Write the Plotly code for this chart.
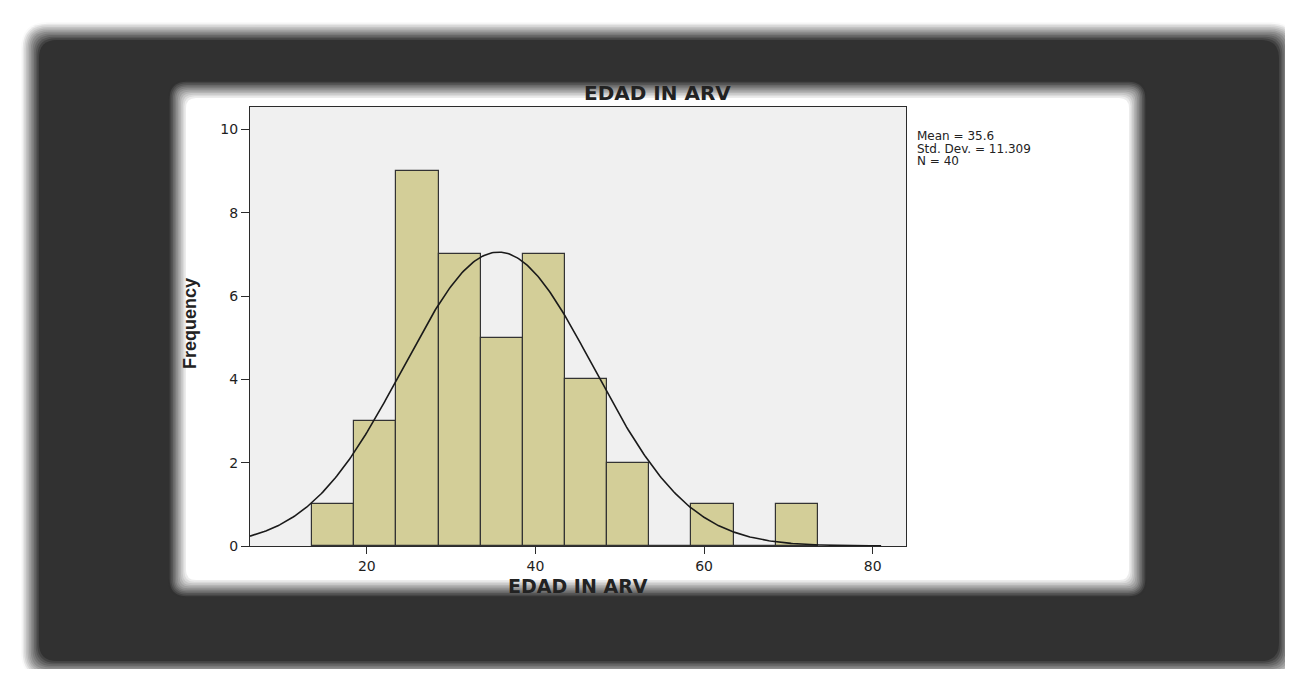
import numpy as np
import plotly.graph_objects as go

# ---- data ----
bin_centers = [16, 21, 26, 31, 36, 41, 46, 51, 56, 61, 66, 71]
counts = [1, 3, 9, 7, 5, 7, 4, 2, 0, 1, 0, 1]
bin_width = 5
mean_val = 35.6
std_val = 11.309
n_val = 40
x_ticks = [20, 40, 60, 80]
y_ticks = [0, 2, 4, 6, 8, 10]
title_text = "EDAD IN ARV"
x_title = "EDAD IN ARV"
y_title = "Frequency"
stats_lines = ["Mean = 35.6", "Std. Dev. = 11.309", "N = 40"]

# ---- geometry (page pixels; the page body adds an 8px offset) ----
OFF = 8
W, H = 1293 - 2 * OFF, 677 - 2 * OFF
L, R, T, B = 250, 906, 107, 546
PW, PH = R - L, B - T


def px(x):
    return (x - L) / PW


def py(y):
    return (B - y) / PH


def rrect(x0, y0, x1, y1, r):
    pts = [
        ("M", [(x0 + r, y0)]), ("L", [(x1 - r, y0)]), ("Q", [(x1, y0), (x1, y0 + r)]),
        ("L", [(x1, y1 - r)]), ("Q", [(x1, y1), (x1 - r, y1)]), ("L", [(x0 + r, y1)]),
        ("Q", [(x0, y1), (x0, y1 - r)]), ("L", [(x0, y0 + r)]), ("Q", [(x0, y0), (x0 + r, y0)]),
    ]
    s = ""
    for cmd, ps in pts:
        s += cmd + " " + " ".join(f"{px(a):.5f},{py(b):.5f}" for a, b in ps) + " "
    return s + "Z"


shapes = []
# dark frame with blurred edges
fx0, fy0, fx1, fy1 = 30, 31, 1288, 670
N = 12
blur = 9
for k in range(N):
    t = k / (N - 1)
    d = blur * (1 - 2 * t)
    g = int(round(250 + (49 - 250) * t))
    col = f"rgb({g},{g},{g})"
    shapes.append(dict(type="path", xref="paper", yref="paper", layer="below",
                       path=rrect(fx0 - d, fy0 - d, fx1 + d, fy1 + d, 18 + max(d, 0)),
                       fillcolor=col, line=dict(width=0)))
# white inner panel with blurred edges
wx0, wy0, wx1, wy1 = 177, 89, 1138, 589
blur2 = 9
for k in range(N):
    t = k / (N - 1)
    d = blur2 * (1 - 2 * t)
    g = int(round(49 + (255 - 49) * t))
    col = f"rgb({g},{g},{g})"
    shapes.append(dict(type="path", xref="paper", yref="paper", layer="below",
                       path=rrect(wx0 - d, wy0 - d, wx1 + d, wy1 + d, 10 + max(d, 0)),
                       fillcolor=col, line=dict(width=0)))
# plot area background
shapes.append(dict(type="rect", xref="paper", yref="paper", layer="below",
                   x0=0, y0=0, x1=1, y1=1, fillcolor="#f0f0f0", line=dict(width=0)))

# normal curve from the displayed statistics
xr = [6.14, 83.95]
xc = np.linspace(xr[0], 81, 400)
yc = n_val * bin_width / (std_val * np.sqrt(2 * np.pi)) * np.exp(-((xc - mean_val) ** 2) / (2 * std_val ** 2))

fig = go.Figure()
fig.add_trace(go.Bar(x=bin_centers, y=counts, width=bin_width,
                     marker=dict(color="#d3ce98", line=dict(color="#333333", width=1.2)),
                     hoverinfo="x+y"))
fig.add_trace(go.Scatter(x=xc, y=yc, mode="lines", line=dict(color="#1a1a1a", width=1.6),
                         hoverinfo="skip"))

tickfont = dict(family="DejaVu Sans", size=14, color="#1e1e1e")
fig.update_layout(
    width=W, height=H,
    margin=dict(l=L - OFF, r=W - (R - OFF), t=T - OFF, b=H - (B - OFF), pad=0),
    paper_bgcolor="white", plot_bgcolor="rgba(0,0,0,0)",
    showlegend=False, bargap=0,
    shapes=shapes,
    xaxis=dict(range=xr, tickvals=x_ticks, showgrid=False, zeroline=False,
               showline=True, mirror=True, linecolor="#2b2b2b", linewidth=1,
               ticks="outside", ticklen=7, tickcolor="#2b2b2b", tickfont=tickfont),
    yaxis=dict(range=[0, 10.54], tickvals=y_ticks, showgrid=False, zeroline=False,
               showline=True, mirror=True, linecolor="#2b2b2b", linewidth=1,
               ticks="outside", ticklen=8, tickcolor="#2b2b2b", tickfont=tickfont),
)

ann = []
ann.append(dict(text=f"<b>{title_text}</b>", xref="paper", yref="paper", x=px(657), y=py(93),
                xanchor="center", yanchor="middle", showarrow=False,
                font=dict(family="DejaVu Sans", size=20, color="#222222")))
ann.append(dict(text=f"<b>{x_title}</b>", xref="paper", yref="paper", x=px(578), y=py(586),
                xanchor="center", yanchor="middle", showarrow=False,
                font=dict(family="DejaVu Sans", size=19, color="#222222")))
ann.append(dict(text=f"<b>{y_title}</b>", xref="paper", yref="paper", x=px(190), y=py(324),
                xanchor="center", yanchor="middle", showarrow=False, textangle=-90,
                font=dict(family="Liberation Sans Narrow, Liberation Sans", size=18, color="#222222")))
for i, s in enumerate(stats_lines):
    ann.append(dict(text=s, xref="paper", yref="paper", x=px(916), y=py(136 + 12.5 * i),
                    xanchor="left", yanchor="middle", showarrow=False, borderpad=0,
                    font=dict(family="DejaVu Sans", size=12, color="#222222")))
fig.update_layout(annotations=ann)

fig.write_html("out.html")
